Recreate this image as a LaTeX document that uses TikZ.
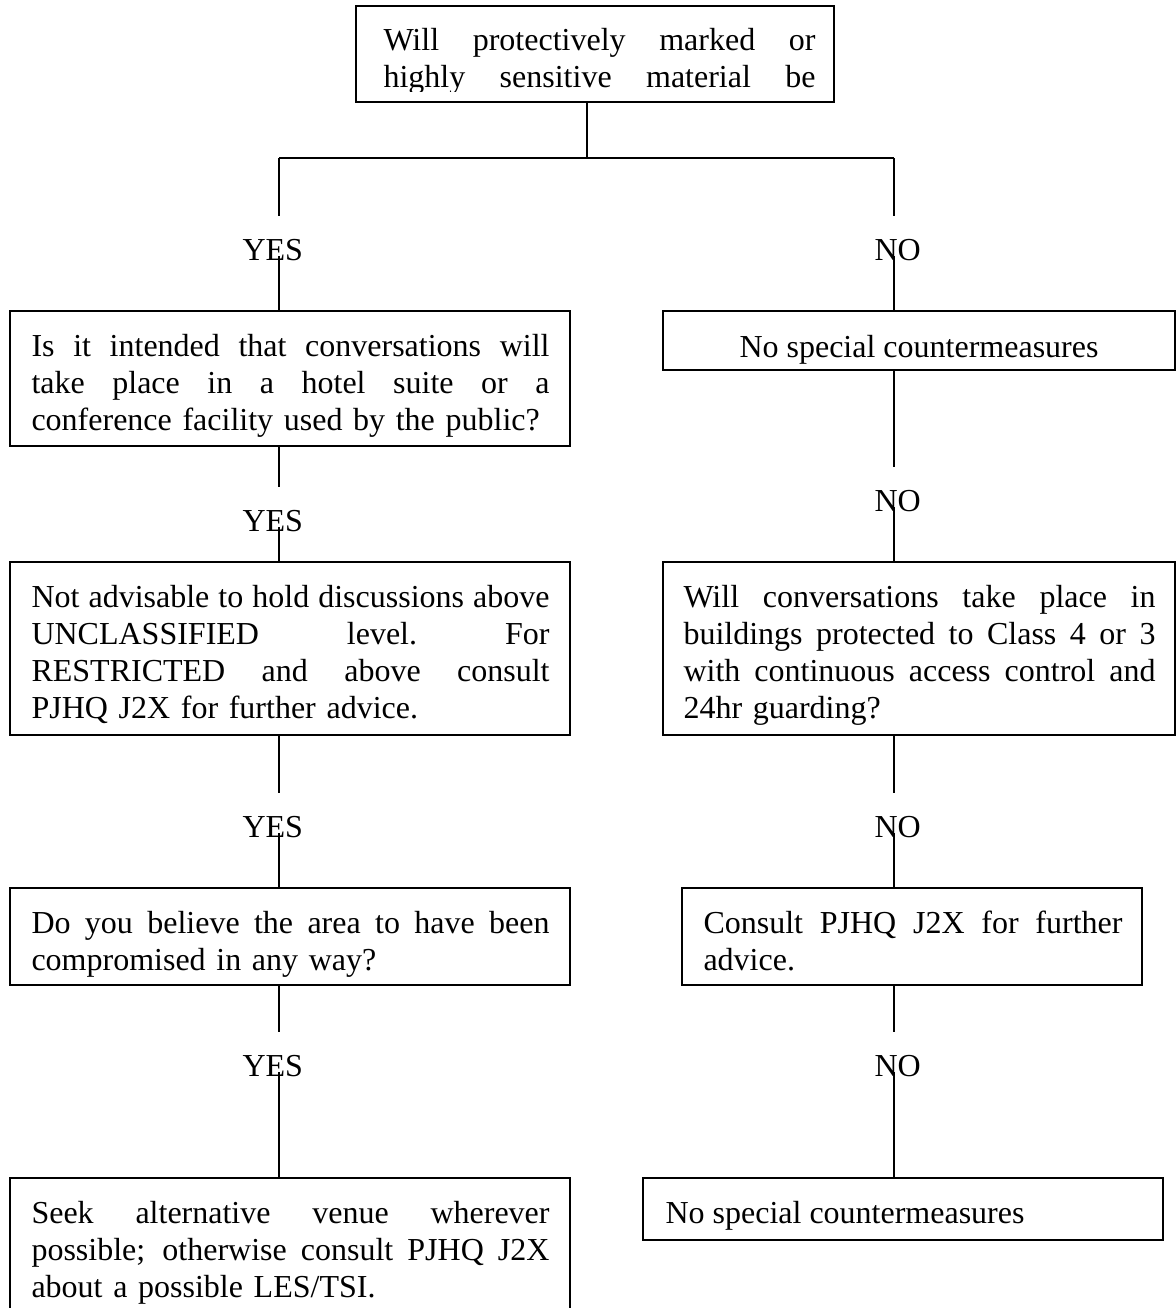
\documentclass[tikz,border=0pt]{standalone}
\usepackage{fontspec}
\setmainfont{Liberation Serif}
\usetikzlibrary{fit}
% one fully justified line of a box text: word spaces share the free room
\newcommand\jline[1]{{\spaceskip=0.25em plus 1fil\relax
  \xspaceskip=0.25em plus 1fil\relax\makebox[\hsize][s]{#1}}}
\begin{document}
\begin{tikzpicture}[x=0.375pt, y=-0.375pt,
  box/.style={draw, line width=0.6pt, inner sep=0pt},
  txt/.style={anchor=north west, inner sep=0pt, align=left,
              font=\fontsize{12pt}{13.875pt}\selectfont},
  lbl/.style={anchor=base west, inner sep=0pt,
              font=\fontsize{12pt}{13.875pt}\selectfont},
  conn/.style={line width=0.6pt}]

\useasboundingbox (0,0) rectangle (1176,1308);
\fill[white] (0,0) rectangle (1176,1308);
\clip (0,0) rectangle (1176,1308);

% ---- boxes ----
\node[box, fit={(356,6) (834,102)}]    (q0) {};
\node[box, fit={(10,311) (570,446)}]   (q1) {};
\node[box, fit={(10,562) (570,735)}]   (q2) {};
\node[box, fit={(10,888) (570,985)}]   (q3) {};
\node[box, fit={(10,1178) (570,1340)}] (q4) {};
\node[box, fit={(663,311) (1175,370)}] (n1) {};
\node[box, fit={(663,562) (1175,735)}] (n2) {};
\node[box, fit={(682,888) (1142,985)}] (n3) {};
\node[box, fit={(643,1178) (1163,1240)}] (n4) {};

% ---- box texts ----
\begin{scope}
  \clip (356,6) rectangle (834,91);
  \node[txt, text width=162pt] (t0) at (383,24.1)
    {\strut\jline{Will protectively marked or}\\\jline{highly sensitive material be}};
\end{scope}

\node[txt, text width=194.25pt] (t1) at (31,330.1)
  {\strut\jline{Is it intended that conversations will}\\
   \jline{take place in a hotel suite or a}\\
   conference facility used by the public?};
\node[txt, text width=194.25pt] (t2) at (31,581.1)
  {\strut\jline{Not advisable to hold discussions above}\\
   \jline{UNCLASSIFIED level. For}\\
   \jline{RESTRICTED and above consult}\\
   PJHQ J2X for further advice.};
\node[txt, text width=194.25pt] (t3) at (31,907.1)
  {\strut\jline{Do you believe the area to have been}\\
   compromised in any way?};
\node[txt, text width=194.25pt] (t4) at (31,1197.1)
  {\strut\jline{Seek alternative venue wherever}\\
   \jline{possible; otherwise consult PJHQ J2X}\\
   about a possible LES/TSI.};

\node[lbl, anchor=base] (u1) at (919,357) {No special countermeasures};
\node[txt, text width=177pt] (u2) at (683,581.1)
  {\strut\jline{Will conversations take place in}\\
   \jline{buildings protected to Class 4 or 3}\\
   \jline{with continuous access control and}\\
   24hr guarding?};
\node[txt, text width=157.125pt] (u3) at (703,907.1)
  {\strut\jline{Consult PJHQ J2X for further}\\
   advice.};
\node[lbl] (u4) at (665,1223) {No special countermeasures};

% ---- branch labels ----
\node[lbl] (y1) at (242,260)  {YES};
\node[lbl] (y2) at (242,531)  {YES};
\node[lbl] (y3) at (242,837)  {YES};
\node[lbl] (y4) at (242,1076) {YES};
\node[lbl] (m1) at (874,260)  {NO};
\node[lbl] (m2) at (874,511)  {NO};
\node[lbl] (m3) at (874,837)  {NO};
\node[lbl] (m4) at (874,1076) {NO};

% ---- connector end points ----
\coordinate (split) at (587,158);
\coordinate (hl) at (279,158);
\coordinate (hr) at (894,158);
\coordinate (ya1) at (279,216);  \coordinate (yb1) at (279,256);
\coordinate (ya2) at (279,487);  \coordinate (yb2) at (279,527);
\coordinate (ya3) at (279,793);  \coordinate (yb3) at (279,833);
\coordinate (ya4) at (279,1032); \coordinate (yb4) at (279,1072);
\coordinate (na1) at (894,216);  \coordinate (nb1) at (894,256);
\coordinate (na2) at (894,467);  \coordinate (nb2) at (894,507);
\coordinate (na3) at (894,793);  \coordinate (nb3) at (894,833);
\coordinate (na4) at (894,1032); \coordinate (nb4) at (894,1072);

% ---- connectors ----
\draw[conn] (q0.south -| split) -- (split);
\draw[conn] (hl) -- (hr);
% YES branch
\draw[conn] (hl) -- (ya1);
\draw[conn] (yb1) -- (q1.north -| yb1);
\draw[conn] (q1.south -| ya2) -- (ya2);
\draw[conn] (yb2) -- (q2.north -| yb2);
\draw[conn] (q2.south -| ya3) -- (ya3);
\draw[conn] (yb3) -- (q3.north -| yb3);
\draw[conn] (q3.south -| ya4) -- (ya4);
\draw[conn] (yb4) -- (q4.north -| yb4);
% NO branch
\draw[conn] (hr) -- (na1);
\draw[conn] (nb1) -- (n1.north -| nb1);
\draw[conn] (n1.south -| na2) -- (na2);
\draw[conn] (nb2) -- (n2.north -| nb2);
\draw[conn] (n2.south -| na3) -- (na3);
\draw[conn] (nb3) -- (n3.north -| nb3);
\draw[conn] (n3.south -| na4) -- (na4);
\draw[conn] (nb4) -- (n4.north -| nb4);
\end{tikzpicture}
\end{document}
